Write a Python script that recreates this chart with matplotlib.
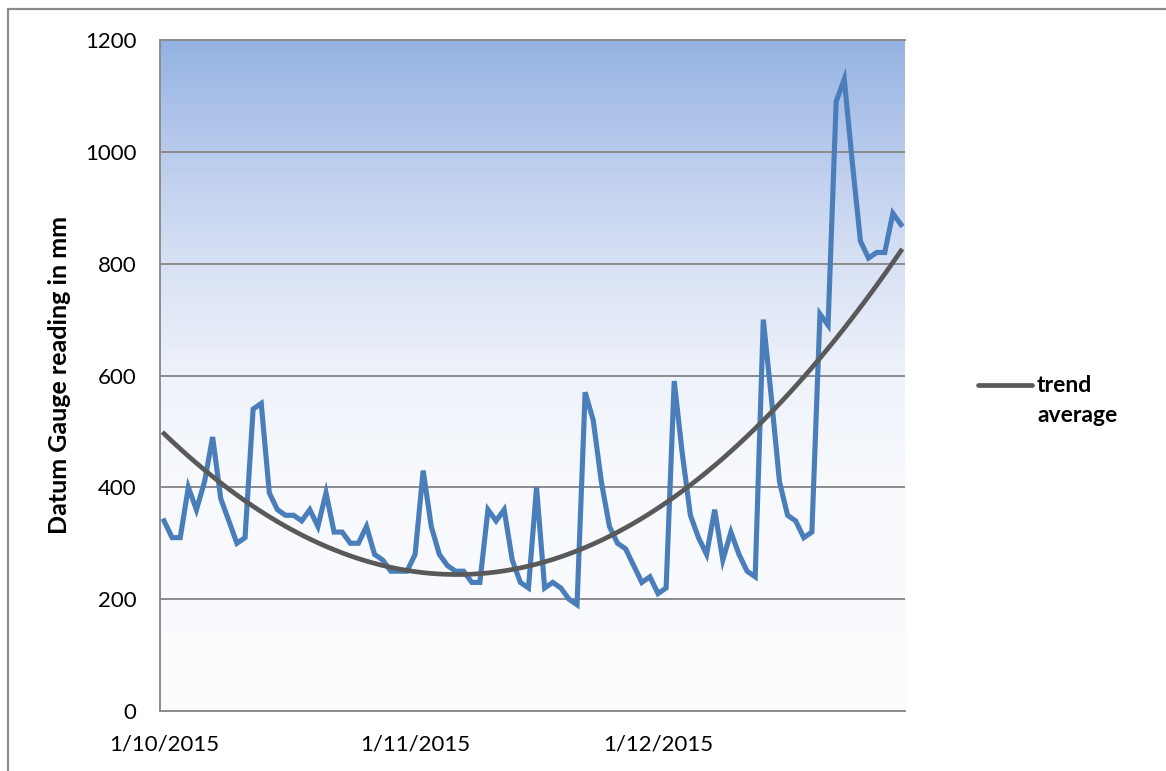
import numpy as np
import matplotlib
matplotlib.use("Agg")
import matplotlib.pyplot as plt
from matplotlib.colors import LinearSegmentedColormap
from matplotlib.patches import Rectangle
from matplotlib.lines import Line2D

plt.rcParams['font.family'] = ['Lato', 'DejaVu Sans']

# Daily readings 1 Oct 2015 .. 31 Dec 2015 (day index 0..91)
oct_vals = [340, 310, 310, 400, 360, 410, 490, 380, 340, 300, 310, 540, 550, 390, 360, 350,
            350, 340, 360, 330, 390, 320, 320, 300, 300, 330, 280, 270, 250, 250, 250]
nov_vals = [280, 430, 330, 280, 260, 250, 250, 230, 230, 360, 340, 360, 270, 230, 220, 400,
            220, 230, 220, 200, 190, 570, 520, 410, 330, 300, 290, 260, 230, 240]
dec_vals = [210, 220, 590, 460, 350, 310, 280, 360, 270, 320, 280, 250, 240, 700, 560, 410,
            350, 340, 310, 320, 710, 690, 1090, 1130, 980, 840, 810, 820, 820, 890, 870]
readings = np.array(oct_vals + nov_vals + dec_vals, dtype=float)
days = np.arange(len(readings))

tick_days = [0, 31, 61]
tick_labels = ["1/10/2015", "1/11/2015", "1/12/2015"]
y_ticks = [0, 200, 400, 600, 800, 1000, 1200]

# Polynomial (order 2) trendline of the readings
coef = np.polyfit(days, readings, 2)
trend = np.polyval(coef, days)

W, H = 1166, 771
fig = plt.figure(figsize=(W / 100, H / 100), dpi=100)
fig.patch.set_facecolor("white")

# outer chart frame (cropped)
fig.add_artist(Rectangle((8 / W, -0.2), 1.2, (H - 9) / H + 0.2, transform=fig.transFigure,
                         fill=False, edgecolor="#8c8c8c", linewidth=1.6))

ax = fig.add_axes([160 / W, (H - 711) / H, 745 / W, 671 / H])

# gradient background
cmap = LinearSegmentedColormap.from_list("bg", [
    (0.0, "#fbfcfe"), (0.35, "#f7f9fd"), (0.5, "#eef2fa"),
    (0.68, "#d6e0f4"), (0.85, "#b6c9ec"), (1.0, "#94b2e2")])
grad = np.linspace(0, 1, 256).reshape(-1, 1)
ax.imshow(grad, aspect="auto", cmap=cmap, origin="lower",
          extent=(-0.5, len(readings) - 0.5, 0, 1200), zorder=0)

ax.set_xlim(-0.5, len(readings) - 0.5)
ax.set_ylim(0, 1200)
ax.set_yticks(y_ticks)
ax.set_xticks(tick_days)
ax.set_xticklabels(tick_labels)
ax.yaxis.grid(True, color="#8c8c8c", linewidth=1.4, zorder=1)
ax.set_axisbelow(False)
ax.tick_params(axis="both", length=0, labelsize=16, colors="black")
ax.tick_params(axis="y", pad=17)
ax.tick_params(axis="x", pad=17)
for s in ["left", "bottom", "top"]:
    ax.spines[s].set_color("#8c8c8c")
    ax.spines[s].set_linewidth(1.4)
ax.spines["right"].set_visible(False)

ax.plot(days, readings, color="#4a7ebb", linewidth=3.7, zorder=3,
        solid_joinstyle="miter")
ax.plot(days, trend, color="#595959", linewidth=3.4, zorder=4)

fig.text(60 / W, (H - 375) / H, "Datum Gauge reading in mm", rotation=90,
         ha="center", va="center", fontsize=18, fontweight="bold")

# legend
fig.add_artist(Line2D([978 / W, 1032 / W], [(H - 385) / H] * 2, transform=fig.transFigure,
                      color="#595959", linewidth=3.4, solid_capstyle="round"))
fig.text(1037 / W, (H - 385) / H, "trend", ha="left", va="center", fontsize=16.5, fontweight="bold")
fig.text(1037 / W, (H - 415) / H, "average", ha="left", va="center", fontsize=16.5, fontweight="bold")

fig.savefig("out.png", dpi=100)
